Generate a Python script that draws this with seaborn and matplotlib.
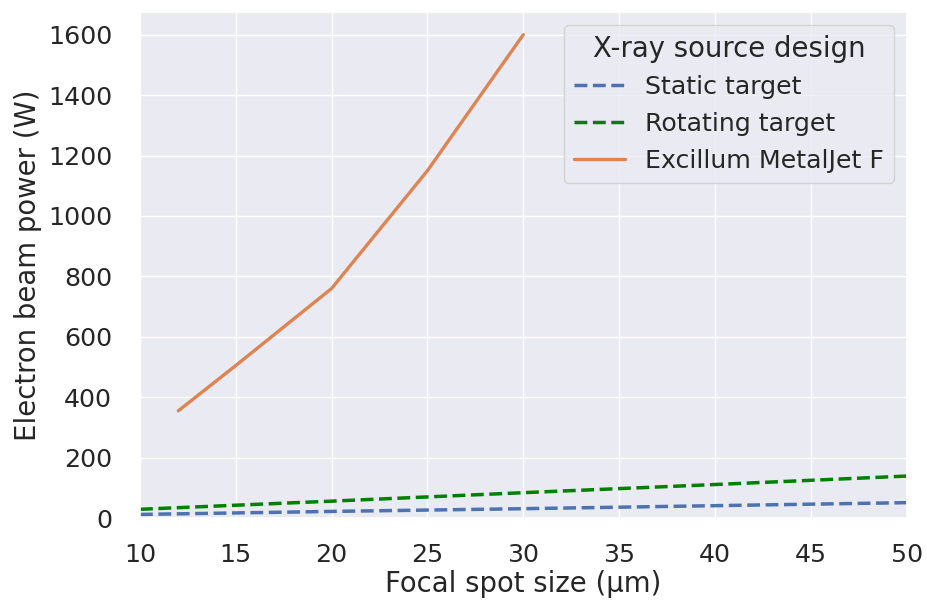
import matplotlib
matplotlib.use("Agg")
import matplotlib.pyplot as plt
import pandas as pd
import seaborn as sns

# spot size (um) -> electron beam power (W)
spot_conv = [10, 20, 30, 40, 50]
static_power = [12, 22, 31, 41, 51]
rotating_power = [29, 56, 84, 111, 139]

spot_jet = [12, 15, 20, 25, 30]
jet_power = [355, 505, 760, 1150, 1600]

sns.set_theme(style="darkgrid", font_scale=1.65)

fig, ax = plt.subplots(figsize=(9.27, 6.01), dpi=100)

df_static = pd.DataFrame({"spot": spot_conv, "power": static_power})
df_rot = pd.DataFrame({"spot": spot_conv, "power": rotating_power})
df_jet = pd.DataFrame({"spot": spot_jet, "power": jet_power})

sns.lineplot(data=df_static, x="spot", y="power", ax=ax, color="#4c72b0",
             linestyle="--", linewidth=2.5, label="Static target")
sns.lineplot(data=df_rot, x="spot", y="power", ax=ax, color="green",
             linestyle="--", linewidth=2.5, label="Rotating target")
sns.lineplot(data=df_jet, x="spot", y="power", ax=ax, color="#dd8452",
             linewidth=2.4, label="Excillum MetalJet F")

ax.set_xlim(10, 50)
ax.set_ylim(0, 1675)
ax.set_yticks(range(0, 1601, 200))
ax.tick_params(axis="y", pad=14)
ax.tick_params(axis="x", pad=12)
ax.set_xlabel("Focal spot size (μm)", labelpad=2)
ax.set_ylabel("Electron beam power (W)")
ax.legend(title="X-ray source design", loc="upper right")

fig.subplots_adjust(left=0.151, right=0.978, top=0.98, bottom=0.138)
fig.savefig("out.png")
